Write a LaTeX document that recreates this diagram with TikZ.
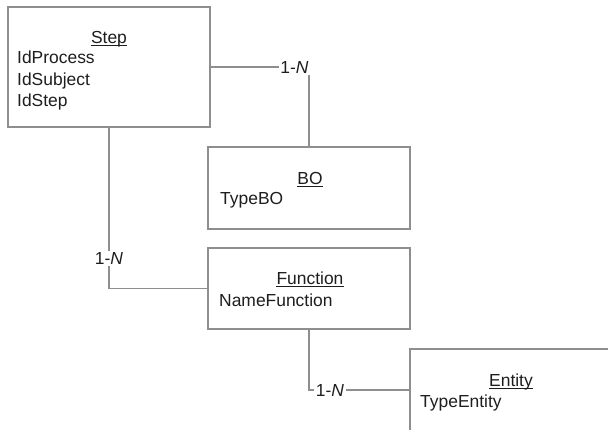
\documentclass[tikz,border=0pt]{standalone}
\usepackage{fontspec}
\setmainfont{Liberation Sans}
\usetikzlibrary{calc}
\definecolor{edge}{HTML}{8E8E8E}
\definecolor{ink}{HTML}{1E1E1E}
\begin{document}
\begin{tikzpicture}[x=1bp,y=-1bp,
  classbox/.style={draw=edge, line width=1.4bp, fill=white, inner sep=0pt, minimum width=202bp},
  txt/.style={inner sep=0pt, text=ink, font=\fontsize{17.5}{21}\selectfont},
  title/.style={txt, anchor=base},
  attr/.style={txt, anchor=base west},
  link/.style={draw=edge, line width=1.4bp},
  card/.style={fill=white, inner sep=1.5bp, text=ink, font=\fontsize{17.5}{21}\selectfont},
  ul/.style={draw=ink, line width=1bp}]
\useasboundingbox (0,0) rectangle (608,429);
\clip (0,0) rectangle (608,429);

% class boxes
\node[classbox, minimum height=120bp] (step) at (109,67) {};
\node[classbox, minimum height=82bp]  (bo)   at (309,188) {};
\node[classbox, minimum height=81bp]  (fn)   at (309,288.5) {};
\node[classbox, minimum height=82bp]  (ent)  at (511,390) {};

% Step
\node[title] (stepT) at (109,43) {Step};
\node[attr] (stepA1) at (17,63) {IdProcess};
\node[attr] (stepA2) at (17,85) {IdSubject};
\node[attr] (stepA3) at (17,106) {IdStep};

% BO
\node[title] (boT) at (310,184) {BO};
\node[attr] (boA1) at (220,204) {TypeBO};

% Function
\node[title] (fnT) at (310,284) {Function};
\node[attr] (fnA1) at (219,306) {NameFunction};

% Entity
\node[title] (entT) at (511,386) {Entity};
\node[attr] (entA1) at (420,407) {TypeEntity};

% underlined class names
\foreach \t in {stepT,boT,fnT,entT}
  \draw[ul] ([yshift=-2bp]\t.base west) -- ([yshift=-2bp]\t.base east);

% associations with their cardinalities
\draw[link] (step.east) -| (bo.north);
\node[card] (c1) at ($(step.east -| bo.north)+(-14.5,0)$) {1-\textit{N}};

\draw[link] (step.south) |- (fn.west);
\node[card] (c2) at ($(step.south |- fn.west)+(0,-30)$) {1-\textit{N}};

\draw[link] (fn.south) |- (ent.west);
\node[card] (c3) at ($(fn.south |- ent.west)+(21,0)$) {1-\textit{N}};
\end{tikzpicture}
\end{document}
